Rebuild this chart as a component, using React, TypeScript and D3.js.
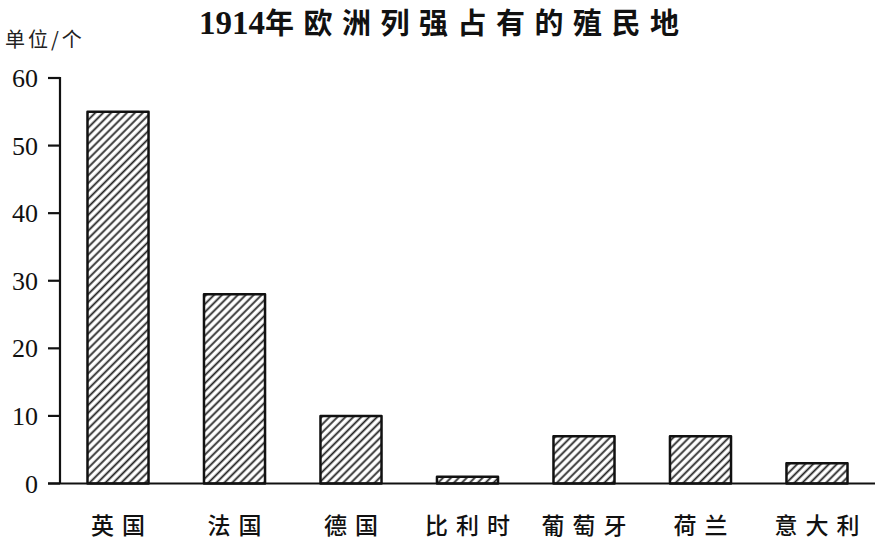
import React, { useRef, useEffect } from 'react';
import { select, scaleBand, scaleLinear } from 'd3';

const countries = ['英国', '法国', '德国', '比利时', '葡萄牙', '荷兰', '意大利'];
const colonies = [55, 28, 10, 1, 7, 7, 3];
const yTicks = [0, 10, 20, 30, 40, 50, 60];

const W = 877;
const H = 543;
const axisX = 60;
const baseY = 483.5;
const topY = 78;
const serif = '"Liberation Serif", "DejaVu Serif", serif';
const cjk = '"Noto Sans CJK SC", "Noto Sans", sans-serif';

const App: React.FC = () => {
  const svgRef = useRef<SVGSVGElement>(null);

  useEffect(() => {
    const svg = select(svgRef.current as any);
    svg.selectAll('*').remove();

    const xScale = scaleBand()
      .domain(countries)
      .range([axisX, 875])
      .paddingInner(0.476)
      .paddingOuter(0.236);

    const yScale = scaleLinear().domain([0, 60]).range([baseY, topY]);

    // hatch pattern
    svg
      .append('defs')
      .append('pattern')
      .attr('id', 'hatch')
      .attr('patternUnits', 'userSpaceOnUse')
      .attr('width', 5.6)
      .attr('height', 5.6)
      .attr('patternTransform', 'rotate(45)')
      .append('line')
      .attr('x1', 1.5)
      .attr('y1', 0)
      .attr('x2', 1.5)
      .attr('y2', 5.6)
      .attr('stroke', '#222')
      .attr('stroke-width', 1.8);

    // title: digits tight, chinese spaced out
    const title = svg
      .append('text')
      .attr('x', 199)
      .attr('y', 34)
      .style('font-weight', 'bold')
      .style('fill', '#111');
    title
      .append('tspan')
      .style('font-family', serif)
      .style('font-size', '33px')
      .text('1914');
    title
      .append('tspan')
      .style('font-family', cjk)
      .style('font-size', '29px')
      .style('letter-spacing', '9.5px')
      .text('年欧洲列强占有的殖民地');

    // unit label
    svg
      .append('text')
      .attr('x', 5)
      .attr('y', 47)
      .style('font-family', cjk)
      .style('font-size', '20px')
      .style('letter-spacing', '3px')
      .style('fill', '#222')
      .text('单位/个');

    // bars
    svg
      .selectAll('.bar')
      .data(countries)
      .join('rect')
      .attr('class', 'bar')
      .attr('x', d => xScale(d) as number)
      .attr('width', xScale.bandwidth())
      .attr('y', (d, i) => yScale(colonies[i]))
      .attr('height', (d, i) => baseY - yScale(colonies[i]))
      .attr('fill', 'url(#hatch)')
      .attr('stroke', '#111')
      .attr('stroke-width', 2.5)
      .attr('stroke-linejoin', 'round');

    // y axis
    svg
      .append('line')
      .attr('x1', axisX)
      .attr('x2', axisX)
      .attr('y1', yScale(60) - 1)
      .attr('y2', baseY)
      .attr('stroke', '#111')
      .attr('stroke-width', 2.2);

    svg
      .selectAll('.ytick')
      .data(yTicks)
      .join('line')
      .attr('class', 'ytick')
      .attr('x1', 48)
      .attr('x2', axisX)
      .attr('y1', d => yScale(d))
      .attr('y2', d => yScale(d))
      .attr('stroke', '#111')
      .attr('stroke-width', 2.2);

    svg
      .selectAll('.ylabel')
      .data(yTicks)
      .join('text')
      .attr('class', 'ylabel')
      .attr('x', 38)
      .attr('y', d => yScale(d) + 9)
      .attr('text-anchor', 'end')
      .style('font-family', serif)
      .style('font-size', '26px')
      .style('fill', '#111')
      .text(d => d);

    // x baseline
    svg
      .append('line')
      .attr('x1', 48)
      .attr('x2', 875)
      .attr('y1', baseY)
      .attr('y2', baseY)
      .attr('stroke', '#111')
      .attr('stroke-width', 2.2);

    // category labels
    svg
      .selectAll('.xlabel')
      .data(countries)
      .join('text')
      .attr('class', 'xlabel')
      .attr('x', d => (xScale(d) as number) + xScale.bandwidth() / 2 + 4)
      .attr('y', 534)
      .attr('text-anchor', 'middle')
      .style('font-family', cjk)
      .style('font-size', '23px')
      .style('font-weight', 500)
      .style('letter-spacing', '8px')
      .style('fill', '#111')
      .text(d => d);
  }, []);

  return (
    <svg
      ref={svgRef}
      width={W}
      height={H}
      style={{ position: 'absolute', left: 0, top: 0, background: '#fff' }}
    ></svg>
  );
};

export default App;
